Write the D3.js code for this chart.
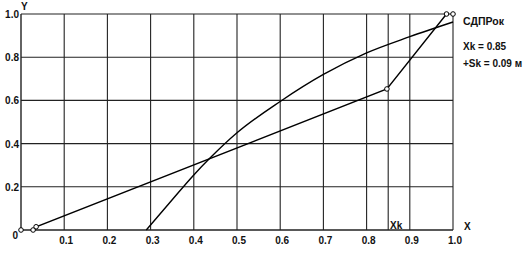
<!DOCTYPE html>
<html>
<head>
<meta charset="utf-8">
<script src="https://cdn.jsdelivr.net/npm/d3@7"></script>
<style>
  body { margin: 0; background: #fff; }
  text { font-family: Arial, "Liberation Sans", sans-serif; font-weight: bold; fill: #111; }
</style>
</head>
<body>
<script>
// values
const xTicks = [0.1, 0.2, 0.3, 0.4, 0.5, 0.6, 0.7, 0.8, 0.9, 1.0];
const yTicks = [0.2, 0.4, 0.6, 0.8, 1.0];
const xk = 0.85;

// broken line with markers
const lineX = [0.028, 0.035, 0.847, 0.985];
const lineY = [0.0, 0.015, 0.653, 1.0];

// smooth curve
const curveX = [0.29, 0.35, 0.40, 0.4375, 0.50, 0.60, 0.70, 0.80, 0.90, 1.0];
const curveY = [0.0, 0.14, 0.255, 0.333, 0.45, 0.595, 0.72, 0.82, 0.895, 0.963];

// extra markers
const markX = [0, 0.028, 0.035, 0.847, 0.985, 1.0];
const markY = [0, 0, 0.015, 0.653, 1.0, 1.0];

const infoLines = ["СДПРок", "Xk = 0.85", "+Sk = 0.09 м"];

let width = 528, height = 255;

let svg = d3.select("body").append("svg")
  .attr("width", width)
  .attr("height", height);

let x = d3.scaleLinear().domain([0, 1]).range([21, 453]);
let y = d3.scaleLinear().domain([0, 1]).range([230, 14]);

let grid = svg.append("g").attr("stroke", "#222").attr("stroke-width", 1.1);

// vertical grid lines
grid.selectAll("line.v")
  .data(xTicks.concat([xk]))
  .enter().append("line")
  .attr("class", "v")
  .attr("x1", d => x(d)).attr("x2", d => x(d))
  .attr("y1", y(0)).attr("y2", y(1));

// horizontal grid lines
grid.selectAll("line.h")
  .data(yTicks)
  .enter().append("line")
  .attr("class", "h")
  .attr("x1", x(0)).attr("x2", x(1))
  .attr("y1", d => y(d)).attr("y2", d => y(d));

// axes
grid.append("line")
  .attr("x1", x(0)).attr("x2", x(0))
  .attr("y1", y(0)).attr("y2", y(1))
  .attr("stroke-width", 1.4);
grid.append("line")
  .attr("x1", x(0)).attr("x2", x(1))
  .attr("y1", y(0)).attr("y2", y(0))
  .attr("stroke-width", 1.4);

// tick labels
svg.selectAll("text.xt")
  .data(xTicks)
  .enter().append("text")
  .attr("class", "xt")
  .attr("x", d => x(d) + 2)
  .attr("y", 244)
  .attr("text-anchor", "middle")
  .attr("font-size", 10)
  .text(d => d.toFixed(1));

svg.selectAll("text.yt")
  .data(yTicks)
  .enter().append("text")
  .attr("class", "yt")
  .attr("x", 19)
  .attr("y", d => y(d) + 4)
  .attr("text-anchor", "end")
  .attr("font-size", 10)
  .text(d => d.toFixed(1));

svg.append("text").attr("x", 18).attr("y", 239).attr("text-anchor", "end")
  .attr("font-size", 10).text("0");
svg.append("text").attr("x", 21).attr("y", 10).attr("font-size", 10).text("Y");
svg.append("text").attr("x", 464).attr("y", 230).attr("font-size", 10).text("X");
svg.append("text").attr("x", 390).attr("y", 229).attr("font-size", 10)
  .attr("font-weight", "normal").text("Xk");

svg.selectAll("text.info")
  .data(infoLines)
  .enter().append("text")
  .attr("class", "info")
  .attr("x", 463)
  .attr("y", (d, i) => [25, 50, 67][i])
  .attr("font-size", (d, i) => i === 0 ? 10.5 : 10)
  .text(d => d);

// curves
let line = d3.line().x(d => x(d[0])).y(d => y(d[1]));

svg.append("path")
  .datum(lineX.map((v, i) => [v, lineY[i]]))
  .attr("fill", "none").attr("stroke", "#000").attr("stroke-width", 1.4)
  .attr("d", line);

svg.append("path")
  .datum(curveX.map((v, i) => [v, curveY[i]]))
  .attr("fill", "none").attr("stroke", "#000").attr("stroke-width", 1.4)
  .attr("d", line.curve(d3.curveMonotoneX));

svg.selectAll("circle")
  .data(markX.map((v, i) => [v, markY[i]]))
  .enter().append("circle")
  .attr("cx", d => x(d[0])).attr("cy", d => y(d[1]))
  .attr("r", 2.3)
  .attr("fill", "#fff").attr("stroke", "#000").attr("stroke-width", 1);
</script>
</body>
</html>
